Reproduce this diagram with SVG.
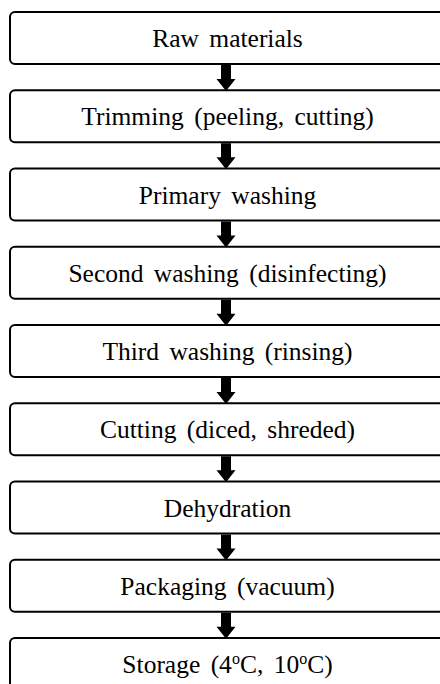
<svg xmlns="http://www.w3.org/2000/svg" width="440" height="684" viewBox="0 0 440 684">
<style>
.box{fill:#fff;stroke:#000;stroke-width:2}
.lbl{font-family:"Liberation Serif","Times New Roman",serif;font-size:25.5px;fill:#000;text-anchor:middle;word-spacing:4px}
.arr{fill:#000}
</style>
<defs>
<polygon id="ar" points="-5,0 5,0 5,14 9.5,14 0,26 -9.5,14 -5,14"/>
</defs>
<rect width="440" height="684" fill="#fff"/>
<g id="n1"><rect class="box" x="10" y="12" width="435" height="52" rx="5"/><text class="lbl" x="227.5" y="47">Raw  materials</text></g>
<g id="n2"><rect class="box" x="10" y="90.25" width="435" height="52" rx="5"/><text class="lbl" x="227.5" y="125.25">Trimming (peeling, cutting)</text></g>
<g id="n3"><rect class="box" x="10" y="168.5" width="435" height="52" rx="5"/><text class="lbl" x="227.5" y="203.5">Primary washing</text></g>
<g id="n4"><rect class="box" x="10" y="246.75" width="435" height="52" rx="5"/><text class="lbl" x="227.5" y="281.75">Second washing (disinfecting)</text></g>
<g id="n5"><rect class="box" x="10" y="325" width="435" height="52" rx="5"/><text class="lbl" x="227.5" y="360">Third washing (rinsing)</text></g>
<g id="n6"><rect class="box" x="10" y="403.25" width="435" height="52" rx="5"/><text class="lbl" x="227.5" y="438.25">Cutting (diced, shreded)</text></g>
<g id="n7"><rect class="box" x="10" y="481.5" width="435" height="52" rx="5"/><text class="lbl" x="227.5" y="516.5">Dehydration</text></g>
<g id="n8"><rect class="box" x="10" y="559.75" width="435" height="52" rx="5"/><text class="lbl" x="227.5" y="594.75">Packaging (vacuum)</text></g>
<g id="n9"><rect class="box" x="10" y="638" width="435" height="52" rx="5"/><text class="lbl" x="227.5" y="673">Storage (4<tspan font-size="16" dy="-9">o</tspan><tspan dy="9">C, 10</tspan><tspan font-size="16" dy="-9">o</tspan><tspan dy="9">C)</tspan></text></g>
<g id="connectors" class="arr">
<use href="#ar" x="226" y="65"/>
<use href="#ar" x="226" y="143.25"/>
<use href="#ar" x="226" y="221.5"/>
<use href="#ar" x="226" y="299.75"/>
<use href="#ar" x="226" y="378"/>
<use href="#ar" x="226" y="456.25"/>
<use href="#ar" x="226" y="534.5"/>
<use href="#ar" x="226" y="612.75"/>
</g>
</svg>
